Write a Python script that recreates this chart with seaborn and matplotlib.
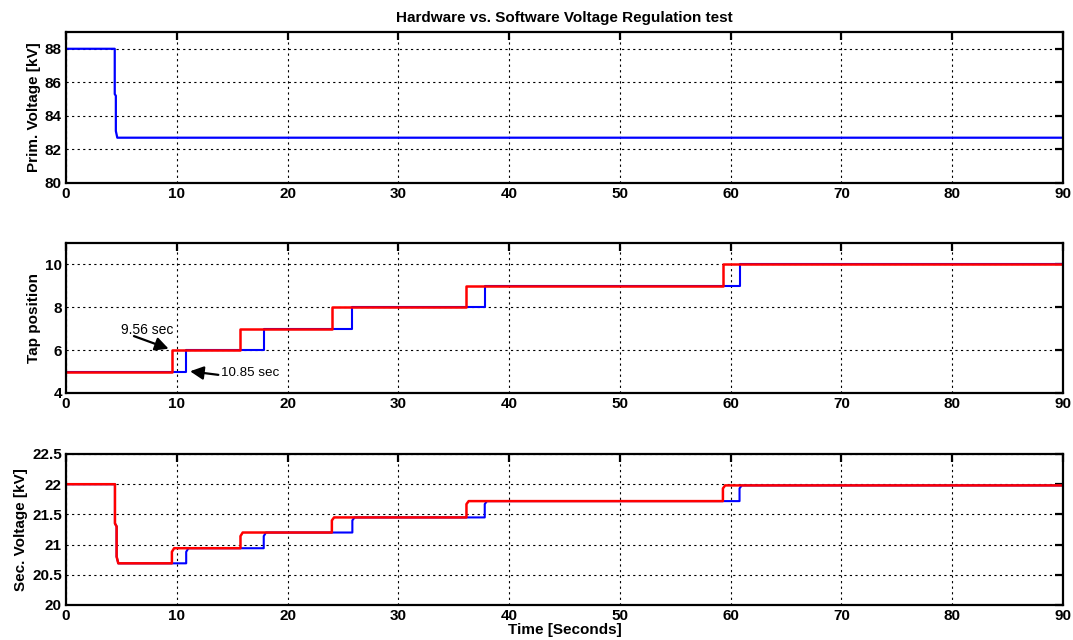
import matplotlib
matplotlib.use("Agg")
import matplotlib.pyplot as plt
import seaborn as sns

# ---------------- data ----------------
prim_time = [0, 4.40, 4.40, 4.50, 4.50, 4.63, 90]
prim_kv = [88.0, 88.0, 85.3, 85.2, 83.1, 82.7, 82.7]

# tap position steps (hardware = blue, software = red)
hw_tap_time = [0, 10.85, 10.85, 17.85, 17.85, 25.85, 25.85, 37.8, 37.8, 60.8, 60.8, 90]
hw_tap = [5, 5, 6, 6, 7, 7, 8, 8, 9, 9, 10, 10]
sw_tap_time = [0, 9.56, 9.56, 15.75, 15.75, 24.0, 24.0, 36.15, 36.15, 59.3, 59.3, 90]
sw_tap = [5, 5, 6, 6, 7, 7, 8, 8, 9, 9, 10, 10]

# secondary voltage
hw_sec_time = [0, 4.42, 4.42, 4.57, 4.57, 4.72,
               10.85, 10.85, 11.05, 17.85, 17.85, 18.05, 25.85, 25.85, 26.05,
               37.8, 37.8, 38.0, 60.8, 60.8, 61.0, 90]
hw_sec_kv = [22.0, 22.0, 21.35, 21.3, 20.8, 20.69,
             20.69, 20.88, 20.94, 20.94, 21.14, 21.20, 21.20, 21.40, 21.45,
             21.45, 21.67, 21.72, 21.72, 21.93, 21.98, 21.98]
sw_sec_time = [0, 4.42, 4.42, 4.57, 4.57, 4.72,
               9.56, 9.56, 9.76, 15.75, 15.75, 15.95, 24.0, 24.0, 24.2,
               36.15, 36.15, 36.35, 59.3, 59.3, 59.5, 90]
sw_sec_kv = hw_sec_kv

x_ticks = [0, 10, 20, 30, 40, 50, 60, 70, 80, 90]
prim_ticks = [80, 82, 84, 86, 88]
tap_ticks = [4, 6, 8, 10]
sec_ticks = [20, 20.5, 21, 21.5, 22, 22.5]
sec_tick_labels = ["20", "20.5", "21", "21.5", "22", "22.5"]

title = "Hardware vs. Software Voltage Regulation test"
ylabels = ["Prim. Voltage [kV]", "Tap position", "Sec. Voltage [kV]"]
xlabel = "Time [Seconds]"

# ---------------- style ----------------
sns.set_style("white")
plt.rcParams["font.family"] = ["Liberation Sans", "DejaVu Sans"]
plt.rcParams["axes.linewidth"] = 1.6
for key in ["text.color", "axes.labelcolor", "xtick.color", "ytick.color",
            "axes.edgecolor"]:
    plt.rcParams[key] = "black"

fig = plt.figure(figsize=(10.73, 6.4), dpi=100)
L, W = 66 / 1073, (1063 - 66) / 1073
ax1 = fig.add_axes([L, 1 - 183 / 640, W, (183 - 32) / 640])
ax2 = fig.add_axes([L, 1 - 393 / 640, W, (393 - 243) / 640])
ax3 = fig.add_axes([L, 1 - 605 / 640, W, (605 - 454) / 640])

BLUE = (0, 0, 1)
RED = (1, 0, 0)

sns.lineplot(x=prim_time, y=prim_kv, ax=ax1, color=BLUE, lw=1.6,
             estimator=None, sort=False)
sns.lineplot(x=hw_tap_time, y=hw_tap, ax=ax2, color=BLUE, lw=1.5,
             estimator=None, sort=False)
sns.lineplot(x=sw_tap_time, y=sw_tap, ax=ax2, color=RED, lw=1.8,
             estimator=None, sort=False)
sns.lineplot(x=hw_sec_time, y=hw_sec_kv, ax=ax3, color=BLUE, lw=1.5,
             estimator=None, sort=False)
sns.lineplot(x=sw_sec_time, y=sw_sec_kv, ax=ax3, color=RED, lw=1.8,
             estimator=None, sort=False)

limits = [(80, 89), (4, 11), (20, 22.5)]
yticks = [prim_ticks, tap_ticks, sec_ticks]
for ax, lim, yt, yl in zip([ax1, ax2, ax3], limits, yticks, ylabels):
    ax.set_xlim(0, 90)
    ax.set_ylim(*lim)
    ax.set_xticks(x_ticks)
    ax.set_yticks(yt)
    ax.grid(True, color="black", linestyle=(0, (2, 3)), linewidth=0.8)
    ax.tick_params(direction="in", top=True, right=True, length=6, width=1.6,
                   labelsize=11, pad=3, colors="black")
    for lab in ax.get_xticklabels() + ax.get_yticklabels():
        lab.set_fontweight("bold")
    ax.set_ylabel(yl, fontsize=11, fontweight="bold", labelpad=3, color="black")
    ax.set_xlabel("")
    for s in ax.spines.values():
        s.set_color("black")

ax3.set_yticklabels(sec_tick_labels, fontweight="bold")
ax1.set_title(title, fontsize=11, fontweight="bold", pad=7, color="black")
ax3.set_xlabel(xlabel, fontsize=11, fontweight="bold", labelpad=0, color="black")

# annotations
arrow = dict(arrowstyle="-|>", color="black", lw=1.6, mutation_scale=20)
ax2.text(7.3, 6.95, "9.56 sec", fontsize=10, ha="center", va="center",
         color="black")
ax2.annotate("", xy=(9.5, 6.02), xytext=(5.9, 6.7), arrowprops=arrow)
ax2.text(16.6, 4.94, "10.85 sec", fontsize=9.6, ha="center", va="center",
         color="black")
ax2.annotate("", xy=(10.95, 5.03), xytext=(14.0, 4.83), arrowprops=arrow)

fig.savefig("out.png", dpi=100)
